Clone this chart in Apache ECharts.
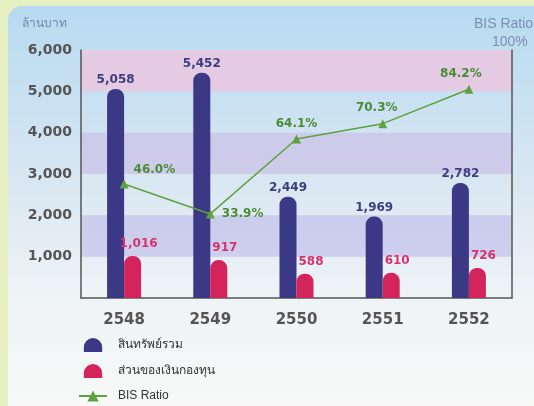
<!DOCTYPE html>
<html>
<head>
<meta charset="utf-8">
<style>
  html, body { margin: 0; padding: 0; background: #e7f0c3; }
  #chart { width: 534px; height: 406px; }
</style>
<script src="https://cdn.jsdelivr.net/npm/echarts@6/dist/echarts.min.js"></script>
</head>
<body>
<div id="chart"></div>
<script>
// Years (Buddhist era) on the category axis
const years = ['2548', '2549', '2550', '2551', '2552'];
// Total assets, million baht
const totalAssets = [5058, 5452, 2449, 1969, 2782];
// Capital funds, million baht
const capitalFunds = [1016, 917, 588, 610, 726];
// BIS ratio, percent
const bisRatio = [46.0, 33.9, 64.1, 70.3, 84.2];

const seriesNames = ['สินทรัพย์รวม', 'ส่วนของเงินกองทุน', 'BIS Ratio'];
const leftUnit = 'ล้านบาท';
const rightUnitLines = ['BIS Ratio', '100%'];

// Where each ratio label sits relative to its point
const ratioLabelPlacement = [
  { position: 'right', offset: [0, -14] },
  { position: 'right', offset: [2, 0] },
  { position: 'top', offset: [0, 0] },
  { position: 'top', offset: [-6, 0] },
  { position: 'top', offset: [-8, 0] }
];

const BLUE = '#3b3886';
const RED = '#d4245c';
const GREEN = '#5da23e';
const numFont = 'DejaVu Sans';
const domeIcon = 'path://M0,13 L0,8.5 A8.5,8.5 0 0 1 17,8.5 L17,13 Z';

const chart = echarts.init(document.getElementById('chart'), null, { renderer: 'canvas' });

const fmt = v => v.toLocaleString('en-US');

chart.setOption({
  animation: false,
  graphic: [
    {
      type: 'rect', z: -10, silent: true,
      shape: { x: 8, y: 6, width: 560, height: 440, r: 14 },
      style: {
        fill: new echarts.graphic.LinearGradient(0, 0, 0, 1, [
          { offset: 0, color: '#b7daf1' },
          { offset: 0.4, color: '#d9e7f2' },
          { offset: 0.65, color: '#eef3f6' },
          { offset: 1, color: '#fbfbf8' }
        ])
      }
    },
    {
      type: 'text', left: 22, top: 18, silent: true,
      style: { text: leftUnit, fill: '#7088ab', font: '12px sans-serif' }
    },
    {
      type: 'text', left: 474, top: 17, silent: true,
      style: { text: rightUnitLines[0], fill: '#7a8fb0', font: '14px "Liberation Sans"' }
    },
    {
      type: 'text', left: 492, top: 35, silent: true,
      style: { text: rightUnitLines[1], fill: '#7a8fb0', font: '14px "Liberation Sans"' }
    }
  ],
  grid: { left: 81, right: 22, top: 50, bottom: 108 },
  legend: {
    orient: 'vertical',
    left: 78,
    top: 338,
    padding: 0,
    itemWidth: 28,
    itemHeight: 14,
    itemGap: 12,
    textStyle: { color: '#333', fontSize: 12, fontFamily: 'sans-serif', padding: [0, 0, 0, 6] },
    data: [
      { name: seriesNames[0], icon: domeIcon },
      { name: seriesNames[1], icon: domeIcon },
      { name: seriesNames[2] }
    ]
  },
  xAxis: {
    type: 'category',
    data: years,
    axisLine: { lineStyle: { color: '#555', width: 1.5 } },
    axisTick: { show: false },
    axisLabel: { color: '#555', fontSize: 15, fontWeight: 'bold', fontFamily: numFont, margin: 15 }
  },
  yAxis: [
    {
      type: 'value', min: 0, max: 6000, interval: 1000,
      axisLine: { show: true, lineStyle: { color: '#555', width: 1.5 } },
      axisTick: { show: false },
      splitLine: { show: false },
      splitArea: {
        show: true,
        areaStyle: {
          color: [
            'rgba(0,0,0,0)', 'rgba(185,180,232,0.55)',
            'rgba(0,0,0,0)', 'rgba(200,182,228,0.55)',
            'rgba(0,0,0,0)', 'rgba(240,195,222,0.75)'
          ]
        }
      },
      axisLabel: {
        color: '#555', fontSize: 14, fontWeight: 'bold', fontFamily: numFont, margin: 9,
        formatter: v => (v === 0 ? '' : fmt(v))
      }
    },
    {
      type: 'value', min: 0, max: 100,
      position: 'right',
      axisLine: { show: true, lineStyle: { color: '#555', width: 1.5 } },
      axisTick: { show: false },
      axisLabel: { show: false },
      splitLine: { show: false }
    }
  ],
  series: [
    {
      name: seriesNames[0],
      type: 'bar',
      data: totalAssets,
      barWidth: 17,
      barGap: '0%',
      itemStyle: { color: BLUE, borderRadius: [8, 8, 0, 0] },
      label: {
        show: true, position: 'top', distance: 3,
        color: '#3d3e80', fontSize: 12, fontWeight: 'bold', fontFamily: numFont,
        formatter: p => fmt(p.value)
      }
    },
    {
      name: seriesNames[1],
      type: 'bar',
      data: capitalFunds,
      barWidth: 17,
      itemStyle: { color: RED, borderRadius: [8, 8, 0, 0] },
      label: {
        show: true, position: 'top', distance: 6, offset: [6, 0],
        color: '#d6336b', fontSize: 12, fontWeight: 'bold', fontFamily: numFont,
        formatter: p => fmt(p.value)
      }
    },
    {
      name: seriesNames[2],
      type: 'line',
      yAxisIndex: 1,
      data: bisRatio.map((v, i) => ({
        value: v,
        label: ratioLabelPlacement[i]
      })),
      symbol: 'triangle',
      symbolSize: 9,
      lineStyle: { color: GREEN, width: 1.5 },
      itemStyle: { color: GREEN },
      z: 5,
      label: {
        show: true, distance: 5,
        color: '#4a8c34', fontSize: 12, fontWeight: 'bold', fontFamily: numFont,
        formatter: p => p.value.toFixed(1) + '%'
      }
    }
  ]
});
</script>
</body>
</html>
